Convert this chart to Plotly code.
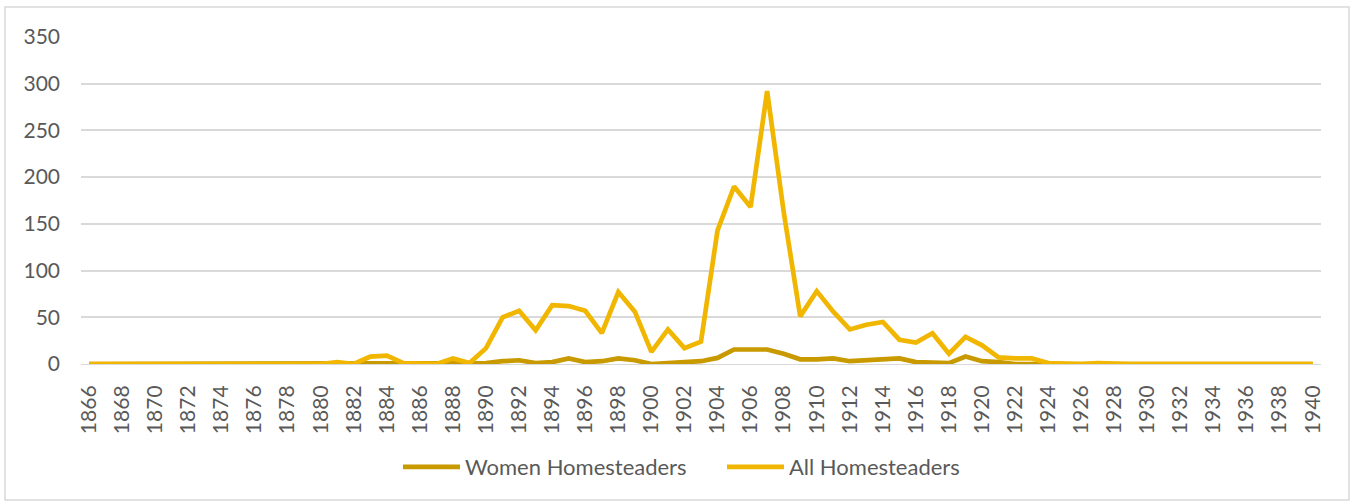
import plotly.graph_objects as go

years = list(range(1866, 1941))

all_homesteaders = [
    0, 0, 0, 0, 0, 0, 0, 0, 0, 0,      # 1866-1875
    0, 0, 0, 0, 0, 2, 0, 8, 9, 1,      # 1876-1885
    1, 0, 6, 1, 17, 50, 57, 36, 63, 62,  # 1886-1895
    57, 33, 77, 56, 13, 37, 17, 24, 143, 190,  # 1896-1905
    168, 292, 163, 51, 78, 56, 37, 42, 45, 26,  # 1906-1915
    23, 33, 11, 29, 20, 7, 6, 6, 1, 0,  # 1916-1925
    0, 1, 0, 0, 0, 0, 0, 0, 0, 0,      # 1926-1935
    0, 0, 0, 0, 0,                      # 1936-1940
]

women_homesteaders = [
    0, 0, 0, 0, 0, 0, 0, 0, 0, 0,      # 1866-1875
    0, 0, 0, 0, 0, 0, 0, 1, 1, 0,      # 1876-1885
    0, 0, 0, 0, 1, 3, 4, 1, 2, 6,      # 1886-1895
    2, 3, 6, 4, 0, 1, 1.5, 3, 6.5, 15.5,  # 1896-1905
    15.5, 15.5, 11, 5, 5, 6, 3, 4, 4, 6,  # 1906-1915
    2, 1, 1, 8, 3, 2, 0, 0, 0, 0,      # 1916-1925
    0, 0, 0, 0, 0, 0, 0, 0, 0, 0,      # 1926-1935
    0, 0, 0, 0, 0,                      # 1936-1940
]

series_names = ["Women Homesteaders", "All Homesteaders"]
series_colors = ["#C99A00", "#F1B600"]

x_labels = [str(y) for y in years]
tick_labels = [str(y) for y in years[::2]]

font_family = "Lato, 'Open Sans', sans-serif"
text_color = "#595959"
grid_color = "#D9D9D9"

fig = go.Figure()
for name, vals, col in zip(series_names, [women_homesteaders, all_homesteaders], series_colors):
    fig.add_trace(go.Scatter(
        x=x_labels, y=vals, name=name, mode="lines",
        line=dict(color=col, width=4.7),
    ))

W, H = 1351, 501
L, R, T, B = 81, 30, 37, 137
pw, ph = W - L - R, H - T - B

def px_x(p):
    return (p - L) / pw

def px_y(p):
    return (H - B - p) / ph

fig.update_layout(
    width=W, height=H,
    margin=dict(l=L, r=R, t=T, b=B, autoexpand=False),
    paper_bgcolor="white", plot_bgcolor="white",
    font=dict(family=font_family, color=text_color, size=21),
    showlegend=True,
    legend=dict(
        orientation="h", x=px_x(398), xanchor="left",
        y=px_y(467), yanchor="middle",
        font=dict(size=22, color=text_color),
        itemwidth=57, entrywidth=252, entrywidthmode="pixels",
    ),
    xaxis=dict(
        type="category", range=[-0.5, len(years) - 0.5],
        tickmode="array", tickvals=tick_labels, ticktext=tick_labels,
        tickangle=-90, showgrid=False,
        showline=True, linecolor=grid_color, linewidth=1,
        ticks="", ticklabelstandoff=12,
        tickfont=dict(size=21, color=text_color),
        fixedrange=True,
    ),
    yaxis=dict(
        range=[0, 350], dtick=50, tick0=0,
        showgrid=True, gridcolor=grid_color, gridwidth=1.5,
        zeroline=False, showline=False,
        ticks="", ticklabelstandoff=20,
        tickfont=dict(size=21, color=text_color),
        fixedrange=True,
    ),
    shapes=[dict(
        type="rect", xref="paper", yref="paper",
        x0=px_x(5), x1=px_x(1349), y0=px_y(500), y1=px_y(7),
        line=dict(color=grid_color, width=1.5), fillcolor="rgba(0,0,0,0)",
        layer="below",
    )],
)

fig.write_html(
    "out.html",
    config={"displayModeBar": False},
    post_script="document.body.style.margin='0';document.body.style.overflow='hidden';",
)
